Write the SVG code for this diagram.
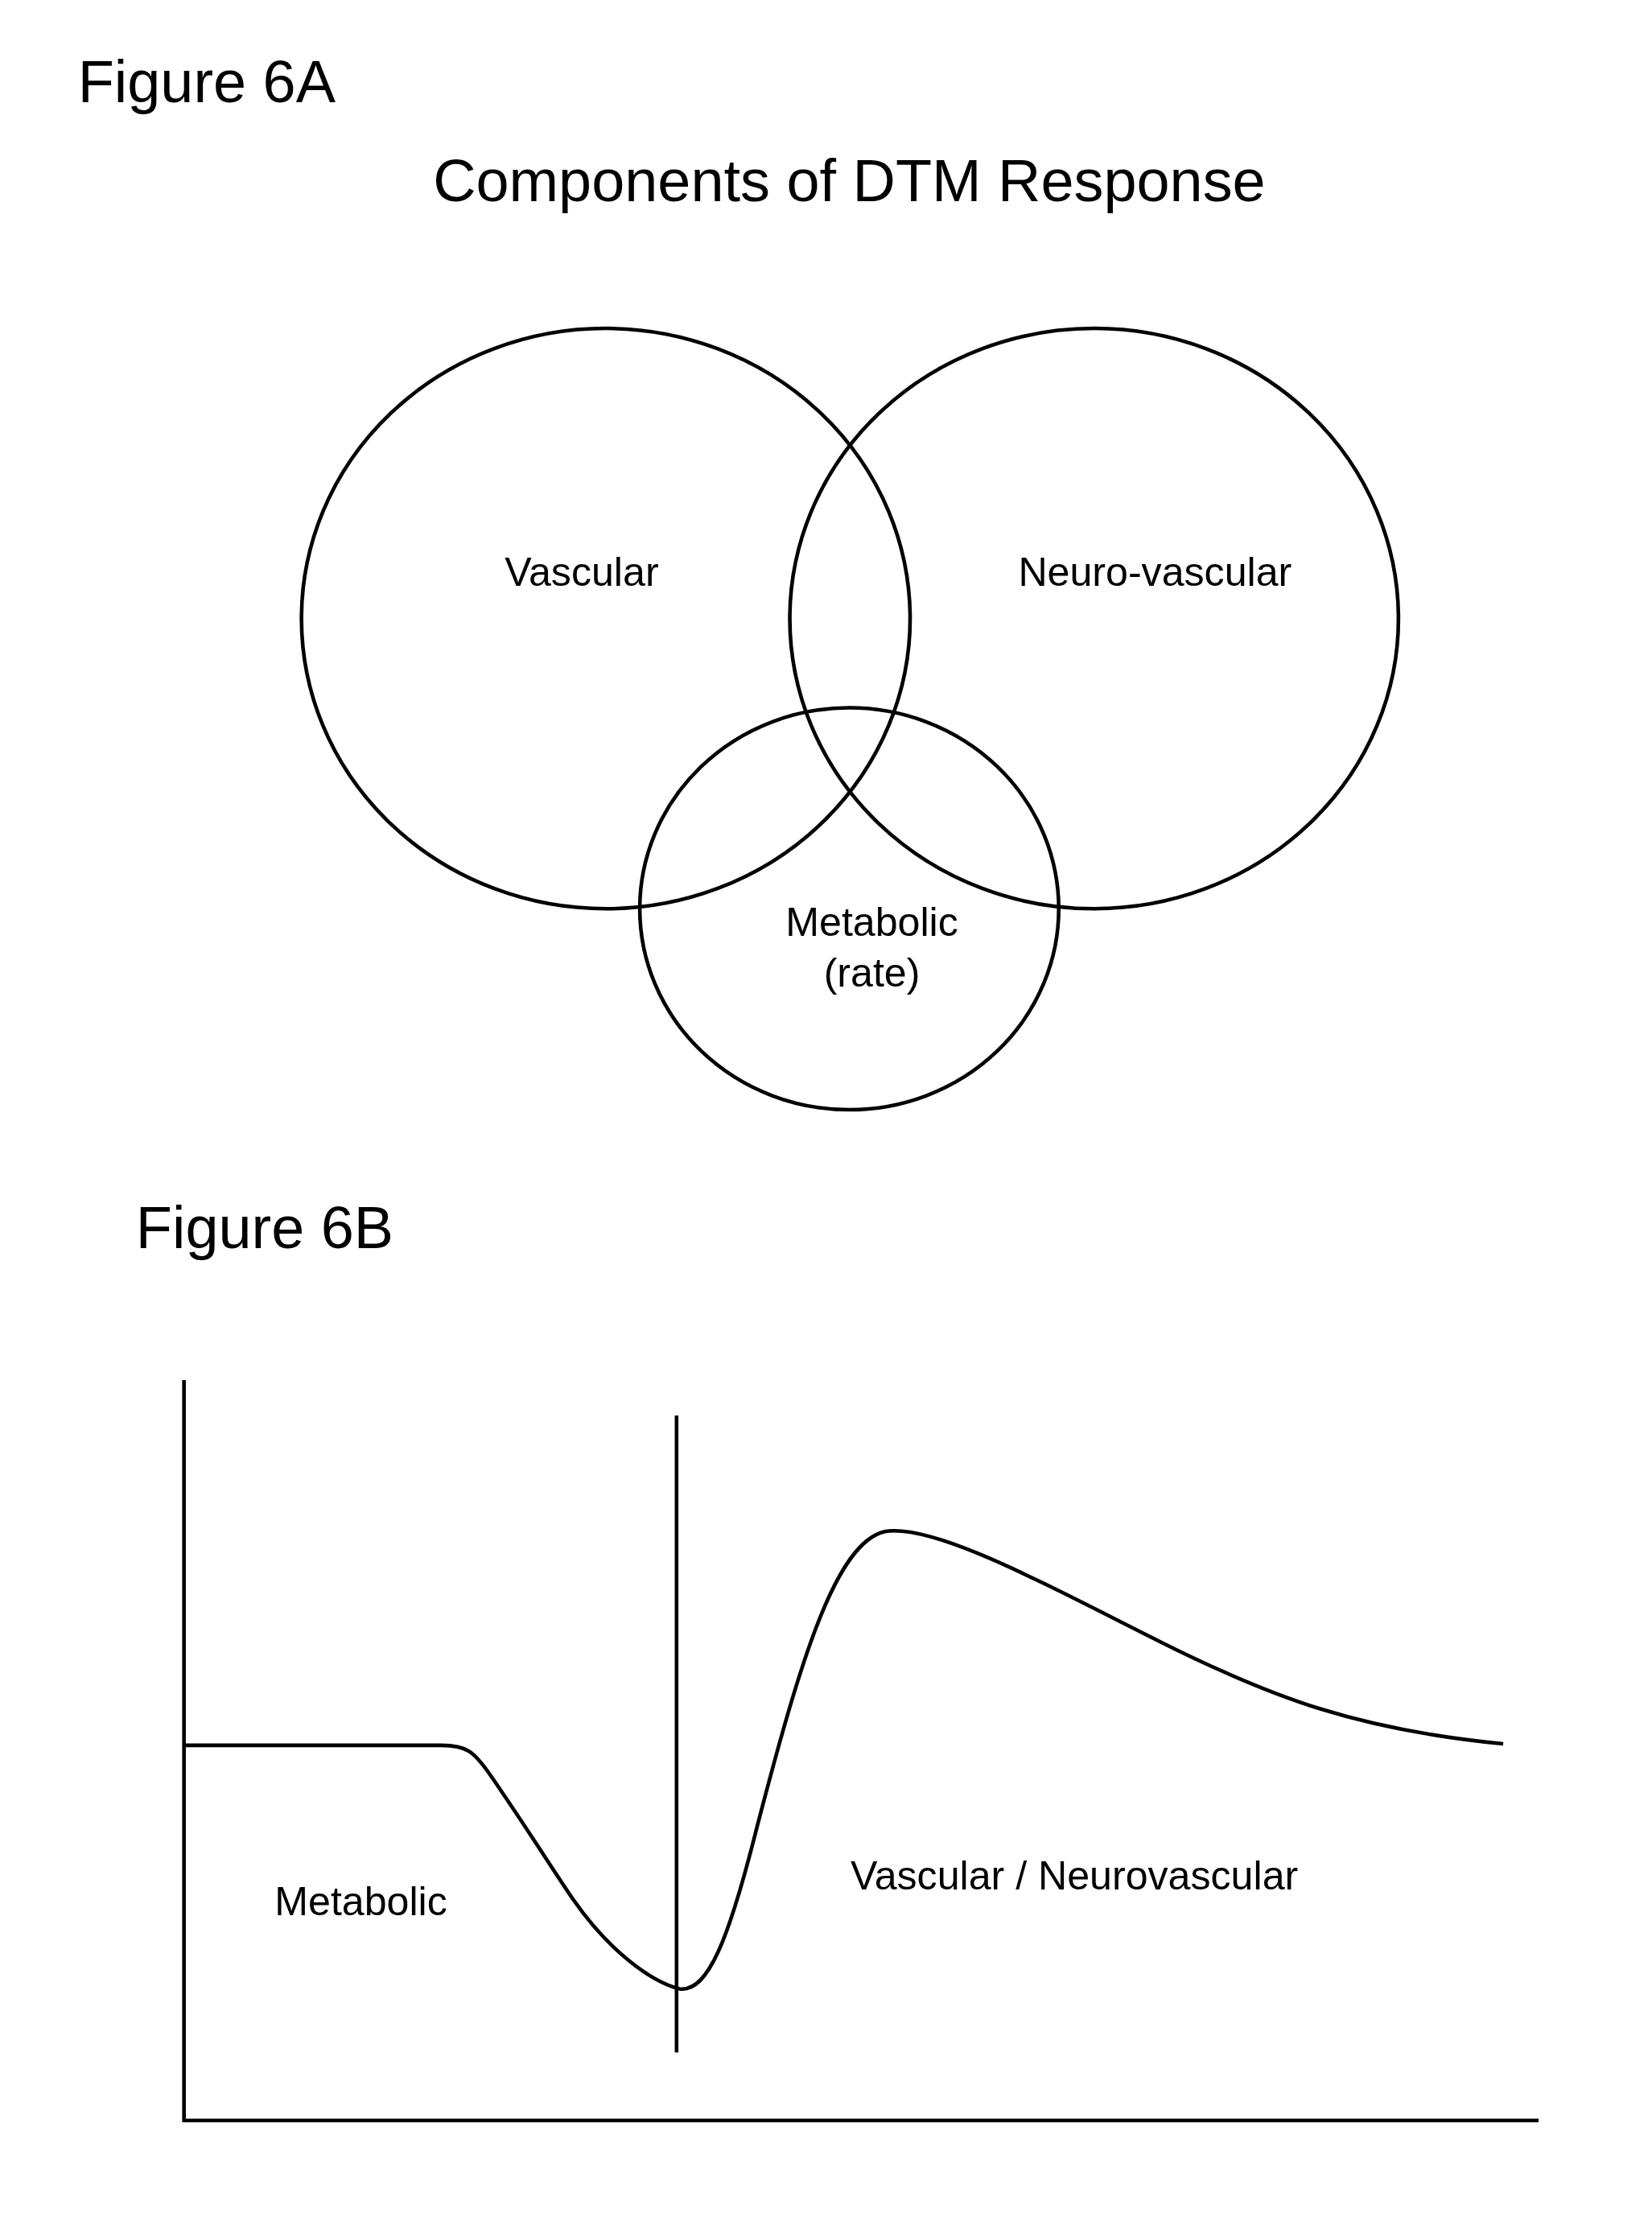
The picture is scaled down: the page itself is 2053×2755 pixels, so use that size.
<svg xmlns="http://www.w3.org/2000/svg" width="2053" height="2755" viewBox="0 0 2053 2755">
<style>
.s{fill:none;stroke:#000;stroke-width:2.6}
text{font-family:"Liberation Sans",Arial,sans-serif;fill:#000}
.big{font-size:42px}
.lab{font-size:28.5px;text-anchor:middle}
</style>
<rect width="2053" height="2755" fill="#fff"/>
<g transform="scale(1.759)">
<text class="big" x="55" y="72">Figure 6A</text>
<text class="big" x="600" y="142" text-anchor="middle">Components of DTM Response</text>
<g id="vascular"><ellipse class="s" cx="428" cy="437" rx="215" ry="205"/><text class="lab" x="411" y="414">Vascular</text></g>
<g id="neurovascular"><ellipse class="s" cx="773" cy="437" rx="215" ry="205"/><text class="lab" x="816" y="414">Neuro-vascular</text></g>
<g id="metabolic"><ellipse class="s" cx="600" cy="642" rx="148" ry="142"/><text class="lab" x="616" y="661">Metabolic</text><text class="lab" x="616" y="697">(rate)</text></g>
<text class="big" x="96" y="882">Figure 6B</text>
<g id="connectors">
<path class="s" d="M130 975 V1498 H1087"/>
<path class="s" d="M478 1000 V1450"/>
<path class="s" d="M130 1233 H312 C330 1233 335 1238 345 1252 C370 1288 390 1320 405 1342 C430 1378 460 1400 480 1405 C500 1408 515 1370 535 1290 C565 1175 590 1090 625 1082 C660 1076 740 1120 820 1160 C900 1200 960 1222 1062 1232"/>
</g>
<text class="lab" x="255" y="1353">Metabolic</text>
<text class="lab" x="759" y="1335">Vascular / Neurovascular</text>
</g>
</svg>
